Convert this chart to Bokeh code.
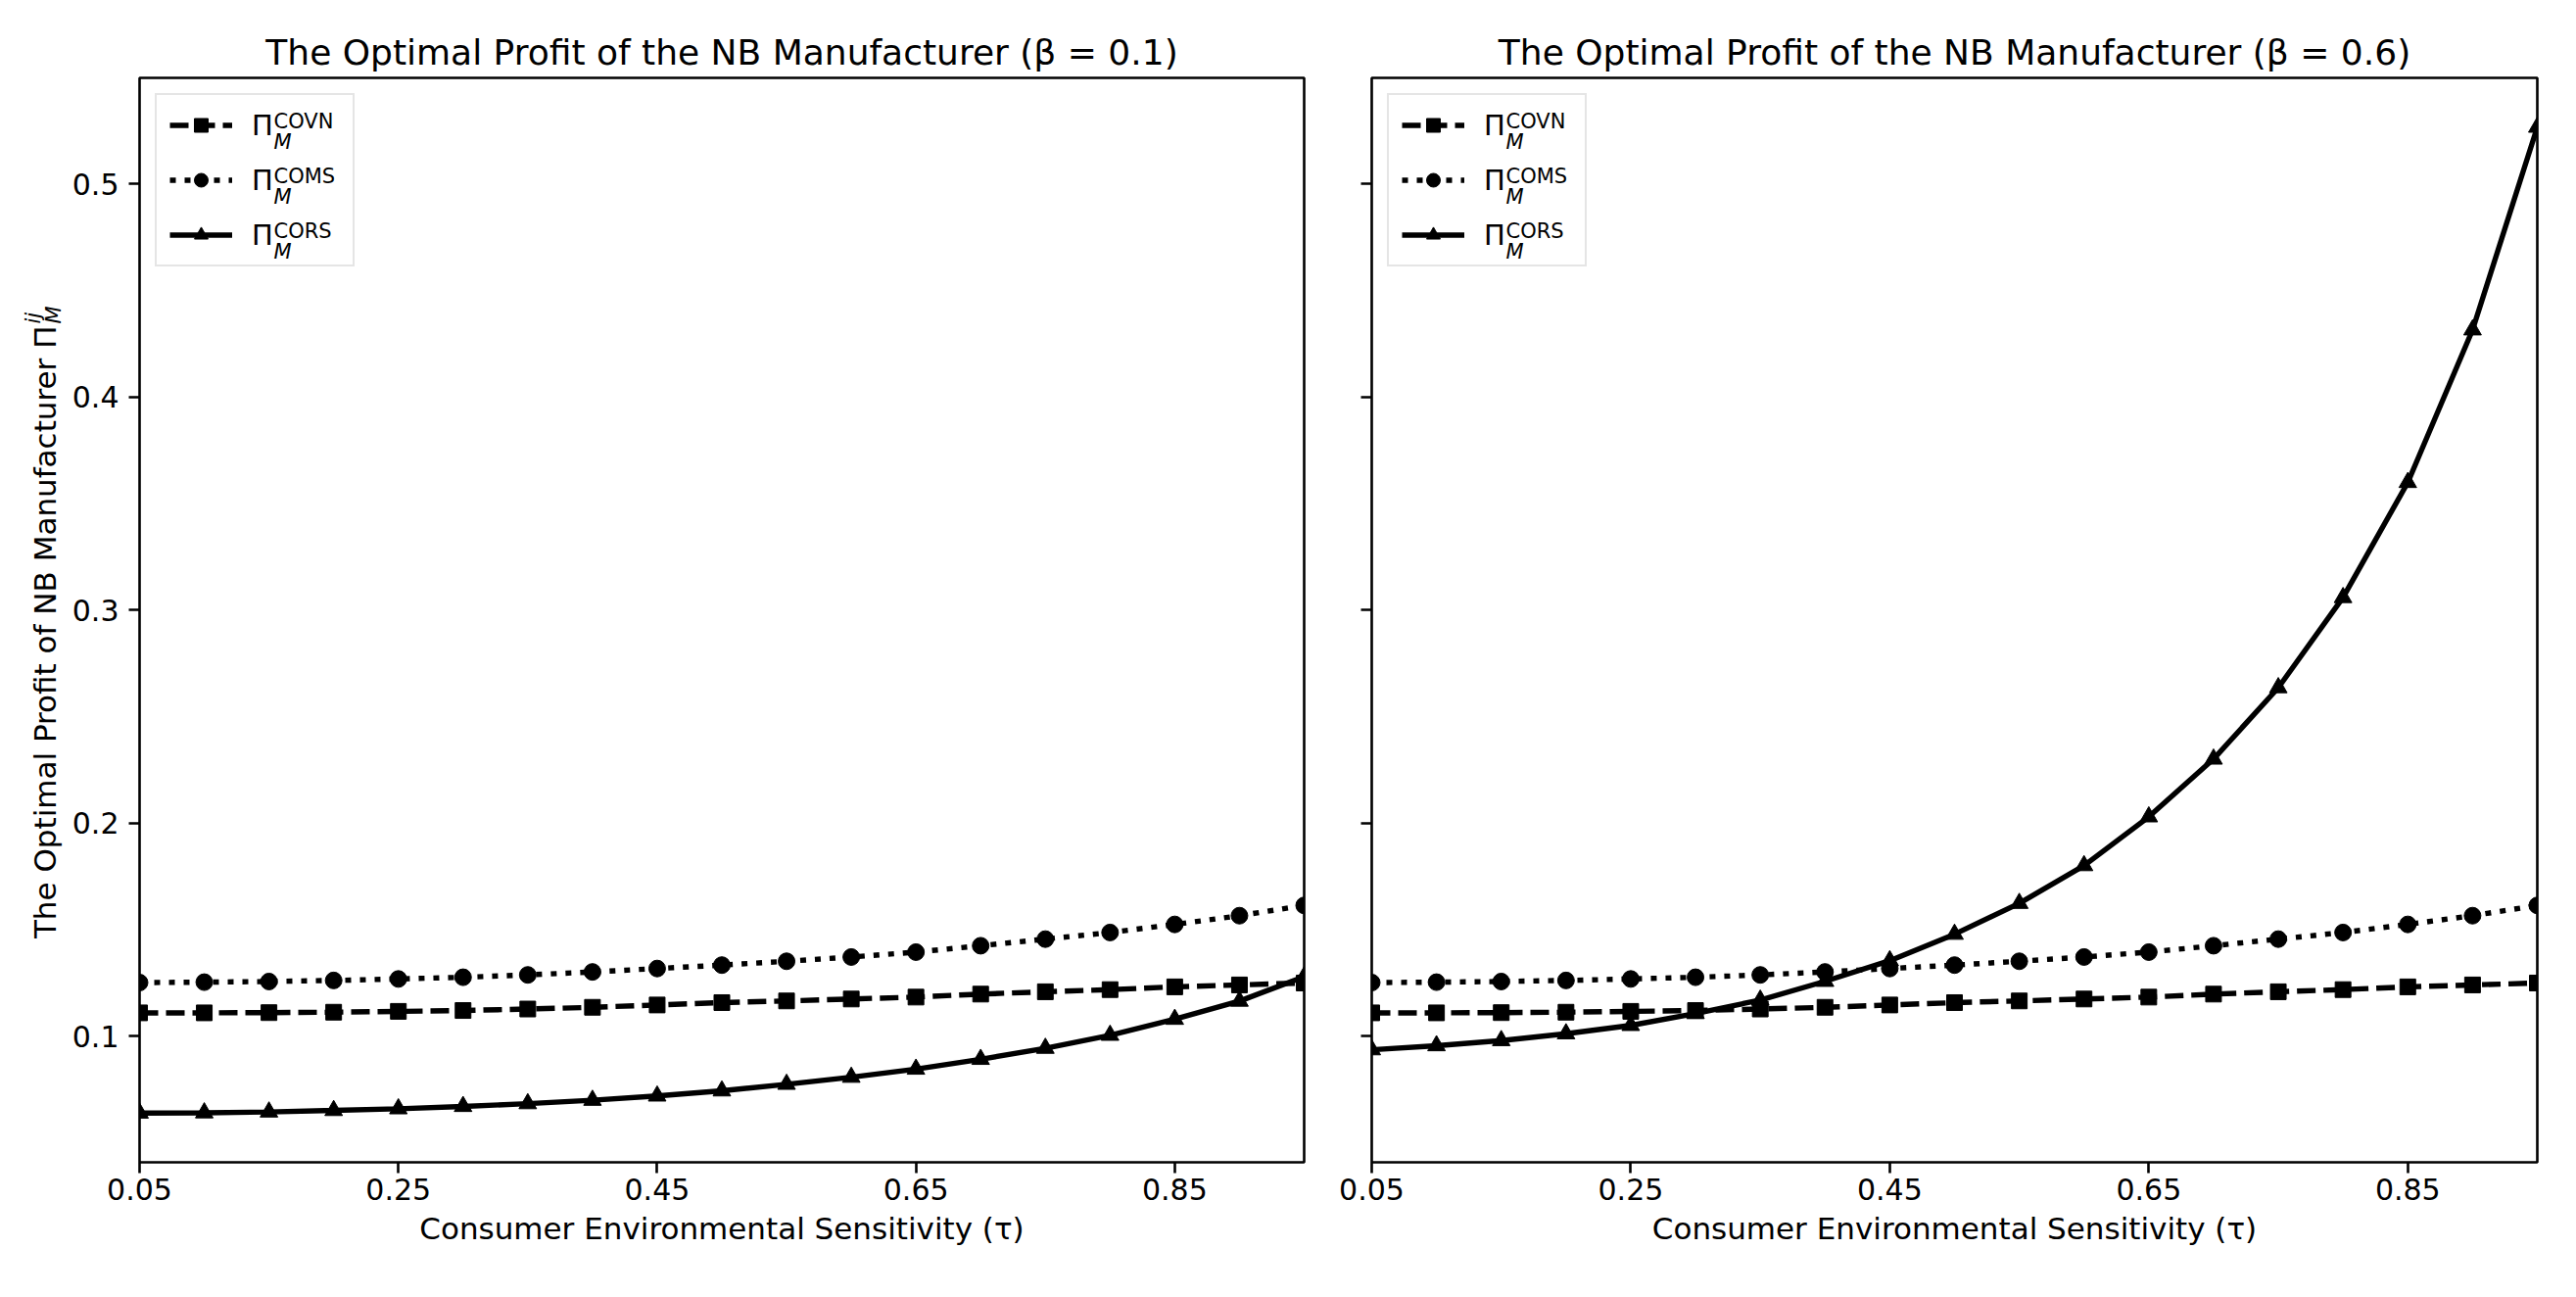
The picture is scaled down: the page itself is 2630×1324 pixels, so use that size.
import math
from bokeh.plotting import figure
from bokeh.models import (Range1d, FixedTicker, Legend, LegendItem, Label,
                          CustomJSTickFormatter)
from bokeh.core.properties import value
from bokeh.layouts import row
from bokeh.embed import file_html
from bokeh.resources import INLINE

# ---------------- data ----------------
tau = [0.05, 0.10, 0.15, 0.20, 0.25, 0.30, 0.35, 0.40, 0.45, 0.50,
       0.55, 0.60, 0.65, 0.70, 0.75, 0.80, 0.85, 0.90, 0.95]
covn = [0.1110, 0.1110, 0.1111, 0.1113, 0.1117, 0.1121, 0.1128, 0.1136, 0.1147, 0.1158,
        0.1166, 0.1175, 0.1184, 0.1198, 0.1209, 0.1219, 0.1232, 0.1241, 0.1250]
coms = [0.1252, 0.1254, 0.1257, 0.1262, 0.1269, 0.1277, 0.1288, 0.1302, 0.1318, 0.1334,
        0.1352, 0.1372, 0.1395, 0.1425, 0.1456, 0.1487, 0.1525, 0.1566, 0.1614]
cors_b01 = [0.0640, 0.0641, 0.0645, 0.0652, 0.0660, 0.0671, 0.0684, 0.0700, 0.0720, 0.0744,
            0.0775, 0.0808, 0.0846, 0.0892, 0.0944, 0.1005, 0.1080, 0.1165, 0.1280]
cors_b06 = [0.0937, 0.0956, 0.0980, 0.1012, 0.1051, 0.1107, 0.1170, 0.1258, 0.1355, 0.1479,
            0.1624, 0.1801, 0.2030, 0.2301, 0.2636, 0.3059, 0.3599, 0.4315, 0.5266]
x_ticks = [0.05, 0.25, 0.45, 0.65, 0.85]
y_ticks = [0.1, 0.2, 0.3, 0.4, 0.5]
titles = ["The Optimal Profit of the NB Manufacturer (β = 0.1)",
          "The Optimal Profit of the NB Manufacturer (β = 0.6)"]
x_label = "Consumer Environmental Sensitivity (τ)"
y_label_main = "The Optimal Profit of NB Manufacturer Π"
y_label_sup = "ij"
y_label_sub = "M"
legend_main = "Π"
legend_sups = ["COVN", "COMS", "CORS"]
legend_sub = "M"

FONT = "DejaVu Sans"
LW_LINE = 5.4

all_vals = covn + coms + cors_b01 + cors_b06
lo, hi = min(all_vals), max(all_vals)
pad = 0.05 * (hi - lo)
y_range = Range1d(lo - pad, hi + pad)
X0, X1 = 0.05, 0.95

FIG_H = 1308
B_TOP = 79
B_BOT = 122
FRAME_H = FIG_H - B_TOP - B_BOT


def make_fig(title, cors, width, bl, br, first):
    p = figure(width=width, height=FIG_H, x_range=Range1d(X0, X1), y_range=y_range,
               output_backend="svg", toolbar_location=None,
               min_border_left=bl, min_border_right=br,
               min_border_top=B_TOP, min_border_bottom=B_BOT,
               background_fill_color="white", border_fill_color="white")
    p.title.text = title
    p.title.text_font = FONT
    p.title.text_font_size = "36px"
    p.title.text_font_style = "normal"
    p.title.text_color = "black"
    p.title.align = "center"
    p.title.standoff = 11
    p.outline_line_color = "black"
    p.outline_line_width = 2.6
    p.outline_line_alpha = 1.0
    p.xgrid.grid_line_color = None
    p.ygrid.grid_line_color = None

    for ax in (p.xaxis[0], p.yaxis[0]):
        ax.axis_line_color = None
        ax.major_tick_line_color = "black"
        ax.major_tick_line_width = 2.6
        ax.major_tick_out = 11
        ax.major_tick_in = 0
        ax.minor_tick_line_color = None
        ax.major_label_text_font = FONT
        ax.major_label_text_font_size = "30px"
        ax.major_label_text_color = "black"
    p.xaxis.major_label_standoff = 5
    p.yaxis.major_label_standoff = 10
    p.xaxis.ticker = FixedTicker(ticks=x_ticks)
    p.yaxis.ticker = FixedTicker(ticks=y_ticks)
    p.xaxis.axis_label = x_label
    p.xaxis.axis_label_text_font = FONT
    p.xaxis.axis_label_text_font_size = "31px"
    p.xaxis.axis_label_text_font_style = "normal"
    p.xaxis.axis_label_text_color = "black"
    p.xaxis.axis_label_standoff = 8
    if not first:
        p.yaxis.formatter = CustomJSTickFormatter(code="return ''")

    l1 = p.line(tau, covn, line_color="black", line_width=LW_LINE, line_dash="19 8")
    s1 = p.scatter(tau, covn, marker="square", size=16, color="black")
    l2 = p.line(tau, coms, line_color="black", line_width=LW_LINE, line_dash="6 9")
    s2 = p.scatter(tau, coms, marker="circle", size=17, color="black")
    l3 = p.line(tau, cors, line_color="black", line_width=LW_LINE)
    s3 = p.scatter(tau, cors, marker="triangle", size=18, color="black")

    items = [LegendItem(label=legend_main, renderers=[l1, s1]),
             LegendItem(label=legend_main, renderers=[l2, s2]),
             LegendItem(label=legend_main, renderers=[l3, s3])]
    leg = Legend(items=items, location="top_left", margin=16, padding=13,
                 spacing=21, glyph_height=35, glyph_width=64, label_height=35,
                 label_width=90, label_standoff=20,
                 label_text_font=FONT, label_text_font_size="29px",
                 label_text_color="black",
                 border_line_color="#cccccc", border_line_width=2.4,
                 background_fill_color="white", background_fill_alpha=0.0)
    p.add_layout(leg)

    ytop = hi + pad
    for i, sup in enumerate(legend_sups):
        p.add_layout(Label(x=X0, y=ytop, x_offset=137, y_offset=-44 - 56 * i,
                           text=sup, text_font=FONT, text_font_size="21px",
                           text_color="black",
                           text_baseline="alphabetic", text_align="left"))
        p.add_layout(Label(x=X0, y=ytop, x_offset=137, y_offset=-65 - 56 * i,
                           text=legend_sub, text_font=FONT, text_font_size="21px",
                           text_font_style="italic", text_color="black",
                           text_baseline="alphabetic", text_align="left"))
    return p


# narrow strip holding the rotated y-axis title (screen-pixel ranges)
LW = 70
pL = figure(width=LW, height=FIG_H, x_range=Range1d(0, LW), y_range=Range1d(0, FRAME_H),
            output_backend="svg", toolbar_location=None,
            x_axis_location=None, y_axis_location=None,
            min_border_left=0, min_border_right=0,
            min_border_top=B_TOP, min_border_bottom=B_BOT,
            background_fill_color="white", border_fill_color="white")
pL.outline_line_color = None
pL.xgrid.grid_line_color = None
pL.ygrid.grid_line_color = None
pL.text(x=[45], y=[854], text=[y_label_main], angle=math.pi / 2,
        text_font=value(FONT), text_font_size=value("31px"), text_color="black",
        text_align="right", text_baseline="alphabetic")
pL.text(x=[33], y=[856], text=[y_label_sup], angle=math.pi / 2,
        text_font=value(FONT), text_font_size=value("21px"), text_font_style="italic",
        text_color="black", text_align="left", text_baseline="alphabetic")
pL.text(x=[54], y=[856], text=[y_label_sub], angle=math.pi / 2,
        text_font=value(FONT), text_font_size=value("21px"), text_font_style="italic",
        text_color="black", text_align="left", text_baseline="alphabetic")

p1 = make_fig(titles[0], cors_b01, 1295, 69, 34, True)
p2 = make_fig(titles[1], cors_b06, 1249, 35, 24, False)
layout = row(pL, p1, p2)

open("out.html", "w").write(file_html(layout, INLINE))
